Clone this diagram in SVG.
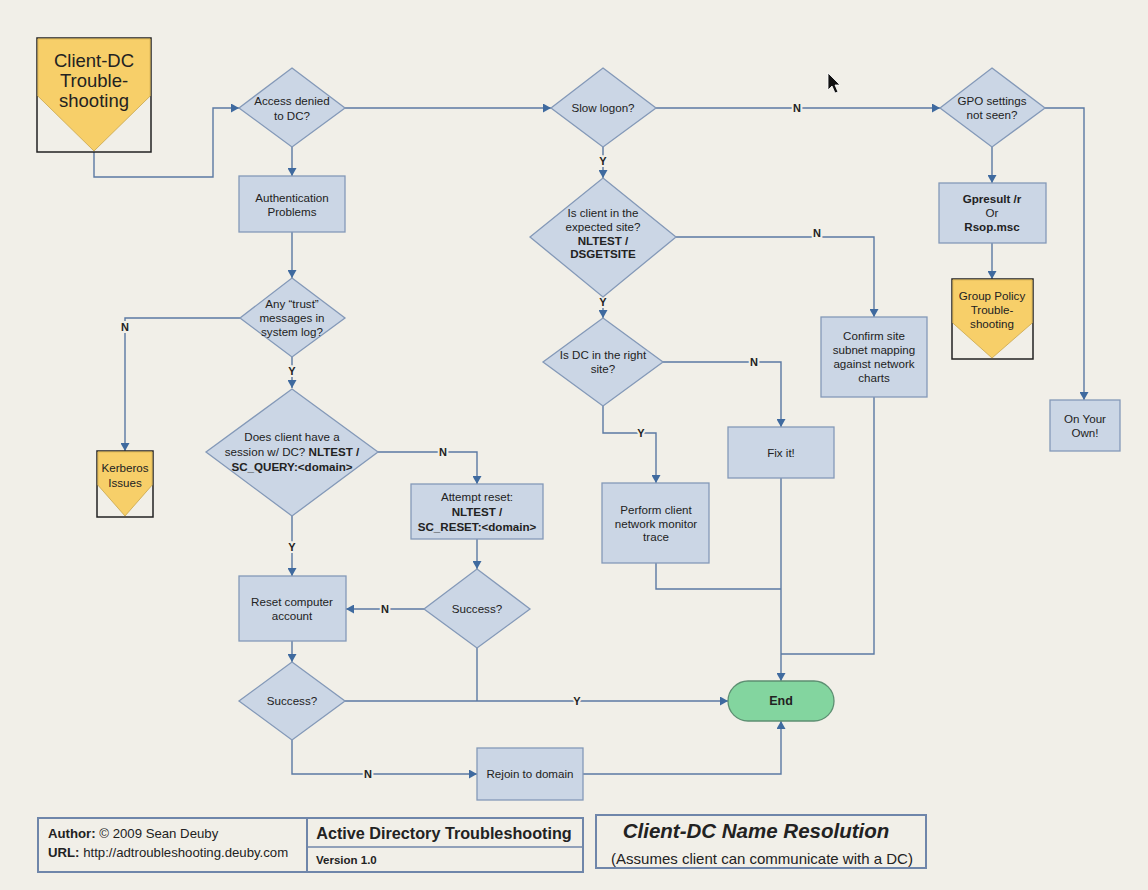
<svg xmlns="http://www.w3.org/2000/svg" width="1148" height="890" viewBox="0 0 1148 890">
<style>
text{font-family:"Liberation Sans",Arial,sans-serif;fill:#222;font-size:11.6px;text-anchor:middle}
.box{fill:#cbd6e5;stroke:#8499b8;stroke-width:1.3}
.dia{fill:#cbd6e5;stroke:#8499b8;stroke-width:1.3}
.off{fill:#f1efe8;stroke:#222;stroke-width:1.5}
.pent{fill:#f7cf69;stroke:#c9a64a;stroke-width:0.8}
.c{fill:none;stroke:#5b79a3;stroke-width:1.4}
.a{marker-end:url(#ah)}
.lbl{font-weight:bold;font-size:11px;stroke:#f1efe8;stroke-width:4;paint-order:stroke}
.b{font-weight:bold}
.foot{fill:none;stroke:#6f86aa;stroke-width:2}
</style>
<defs>
<marker id="ah" markerWidth="9" markerHeight="9" refX="8" refY="4.5" orient="auto" markerUnits="userSpaceOnUse">
<path d="M0,0 L8,4.5 L0,9 z" fill="#3f6a9f"/>
</marker>
</defs>
<rect width="1148" height="890" fill="#f1efe8"/>

<g id="connectors">
<polyline class="c a" points="94,152 94,177 213,177 213,108 239,108"/>
<polyline class="c a" points="292,147 292,176"/>
<polyline class="c a" points="292,232 292,278"/>
<polyline class="c a" points="240,318 125,318 125,451"/>
<polyline class="c a" points="292,357 292,388"/>
<polyline class="c a" points="378,452 477,452 477,484"/>
<polyline class="c a" points="292,516 292,576"/>
<polyline class="c a" points="477,539 477,569"/>
<polyline class="c a" points="424,609 346,609"/>
<polyline class="c" points="477,648 477,701"/>
<polyline class="c a" points="292,641 292,662"/>
<polyline class="c a" points="345,701 728,701"/>
<polyline class="c a" points="292,740 292,774 477,774"/>
<polyline class="c a" points="583,774 781,774 781,721"/>
<polyline class="c a" points="345,108 551,108"/>
<polyline class="c a" points="656,108 940,108"/>
<polyline class="c a" points="603,147 603,178"/>
<polyline class="c a" points="676,237 874,237 874,317"/>
<polyline class="c a" points="603,297 603,318"/>
<polyline class="c a" points="663,362 781,362 781,427"/>
<polyline class="c a" points="603,406 603,433 656,433 656,483"/>
<polyline class="c a" points="781,478 781,681"/>
<polyline class="c" points="656,563 656,589 781,589"/>
<polyline class="c" points="874,397 874,654 781,654"/>
<polyline class="c a" points="992,147 992,183"/>
<polyline class="c a" points="992,243 992,279"/>
<polyline class="c a" points="1045,108 1084,108 1084,400"/>
<text class="lbl" x="125" y="331">N</text>
<text class="lbl" x="292" y="375">Y</text>
<text class="lbl" x="443" y="456">N</text>
<text class="lbl" x="292" y="551">Y</text>
<text class="lbl" x="385" y="613">N</text>
<text class="lbl" x="577" y="705">Y</text>
<text class="lbl" x="368" y="778">N</text>
<text class="lbl" x="797" y="112">N</text>
<text class="lbl" x="603" y="165">Y</text>
<text class="lbl" x="817" y="237">N</text>
<text class="lbl" x="603" y="306">Y</text>
<text class="lbl" x="754" y="366">N</text>
<text class="lbl" x="641" y="437">Y</text>
</g>

<g id="start">
<rect class="off" x="37" y="38" width="114" height="114"/>
<polygon class="pent" points="37.8,38.8 150.2,38.8 150.2,96 94,151 37.8,96"/>
<text x="94" y="67" style="font-size:18.5px">Client-DC</text>
<text x="94" y="87" style="font-size:18.5px">Trouble-</text>
<text x="94" y="107" style="font-size:18.5px">shooting</text>
</g>

<g id="access-denied">
<polygon class="dia" points="292,68 345,108 292,147 239,108"/>
<text x="292" y="105">Access denied</text>
<text x="292" y="120">to DC?</text>
</g>

<g id="auth-problems">
<rect class="box" x="239" y="176" width="106" height="56"/>
<text x="292" y="202">Authentication</text>
<text x="292" y="216">Problems</text>
</g>

<g id="trust-messages">
<polygon class="dia" points="292,278 345,318 292,357 240,318"/>
<text x="292" y="308">Any “trust”</text>
<text x="292" y="322">messages in</text>
<text x="292" y="336">system log?</text>
</g>

<g id="kerberos">
<rect class="off" x="97" y="451" width="56" height="66"/>
<polygon class="pent" points="97.8,451.8 152.2,451.8 152.2,485 125,516 97.8,485"/>
<text x="125" y="472">Kerberos</text>
<text x="125" y="487">Issues</text>
</g>

<g id="session">
<polygon class="dia" points="292,389 378,452 292,516 206,452"/>
<text x="292" y="441">Does client have a</text>
<text x="292" y="456">session w/ DC? <tspan class="b">NLTEST /</tspan></text>
<text x="292" y="471" class="b">SC_QUERY:&lt;domain&gt;</text>
</g>

<g id="attempt-reset">
<rect class="box" x="411" y="484" width="132" height="55"/>
<text x="477" y="501">Attempt reset:</text>
<text x="477" y="516" class="b">NLTEST /</text>
<text x="477" y="531" class="b">SC_RESET:&lt;domain&gt;</text>
</g>

<g id="success2">
<polygon class="dia" points="477,569 530,609 477,648 424,609"/>
<text x="477" y="613">Success?</text>
</g>

<g id="reset-account">
<rect class="box" x="239" y="576" width="107" height="65"/>
<text x="292" y="606">Reset computer</text>
<text x="292" y="620">account</text>
</g>

<g id="success1">
<polygon class="dia" points="292,662 345,701 292,740 239,701"/>
<text x="292" y="705">Success?</text>
</g>

<g id="rejoin">
<rect class="box" x="477" y="748" width="106" height="52"/>
<text x="530" y="778">Rejoin to domain</text>
</g>

<g id="end">
<rect x="728" y="681" width="106" height="40" rx="20" ry="20" fill="#83d59f" stroke="#5d8f72" stroke-width="1.3"/>
<text x="781" y="705" class="b" style="font-size:12.5px">End</text>
</g>

<g id="slow-logon">
<polygon class="dia" points="603,68 656,108 603,147 551,108"/>
<text x="603" y="112">Slow logon?</text>
</g>

<g id="expected-site">
<polygon class="dia" points="603,178 676,237 603,297 530,237"/>
<text x="603" y="217">Is client in the</text>
<text x="603" y="231">expected site?</text>
<text x="603" y="245" class="b">NLTEST /</text>
<text x="603" y="258" class="b">DSGETSITE</text>
</g>

<g id="right-site">
<polygon class="dia" points="603,318 663,362 603,406 543,362"/>
<text x="603" y="359">Is DC in the right</text>
<text x="603" y="373">site?</text>
</g>

<g id="fix-it">
<rect class="box" x="728" y="427" width="106" height="51"/>
<text x="781" y="457">Fix it!</text>
</g>

<g id="perform-trace">
<rect class="box" x="602" y="483" width="107" height="80"/>
<text x="656" y="514">Perform client</text>
<text x="656" y="528">network monitor</text>
<text x="656" y="541">trace</text>
</g>

<g id="confirm-site">
<rect class="box" x="821" y="317" width="106" height="80"/>
<text x="874" y="340">Confirm site</text>
<text x="874" y="354">subnet mapping</text>
<text x="874" y="368">against network</text>
<text x="874" y="382">charts</text>
</g>

<g id="gpo">
<polygon class="dia" points="992,68 1045,108 992,147 940,108"/>
<text x="992" y="105">GPO settings</text>
<text x="992" y="119">not seen?</text>
</g>

<g id="gpresult">
<rect class="box" x="939" y="183" width="107" height="60"/>
<text x="992" y="203" class="b">Gpresult /r</text>
<text x="992" y="217">Or</text>
<text x="992" y="231" class="b">Rsop.msc</text>
</g>

<g id="group-policy">
<rect class="off" x="952" y="279" width="81" height="80"/>
<polygon class="pent" points="952.8,279.8 1032.2,279.8 1032.2,323 992,358 952.8,323"/>
<text x="992" y="300">Group Policy</text>
<text x="992" y="314">Trouble-</text>
<text x="992" y="328">shooting</text>
</g>

<g id="on-your-own">
<rect class="box" x="1050" y="400" width="70" height="51"/>
<text x="1085" y="423">On Your</text>
<text x="1085" y="437">Own!</text>
</g>

<g id="footer-info">
<rect class="foot" x="38" y="818" width="545" height="54"/>
<line class="foot" x1="307" y1="818" x2="307" y2="872"/>
<line class="foot" x1="307" y1="847" x2="583" y2="847" style="stroke-width:1.5"/>
<text x="48" y="838" style="text-anchor:start;font-size:13.2px"><tspan class="b">Author:</tspan> © 2009 Sean Deuby</text>
<text x="48" y="857" style="text-anchor:start;font-size:13.2px"><tspan class="b">URL:</tspan> http://adtroubleshooting.deuby.com</text>
<text x="444" y="839" class="b" style="font-size:16.2px">Active Directory Troubleshooting</text>
<text x="316" y="864" class="b" style="text-anchor:start;font-size:11.5px">Version 1.0</text>
</g>

<g id="footer-title">
<rect class="foot" x="596" y="815" width="330" height="53"/>
<text x="756" y="838" style="font-size:20.5px;font-weight:bold;font-style:italic">Client-DC Name Resolution</text>
<text x="762" y="864" style="font-size:15px">(Assumes client can communicate with a DC)</text>
</g>

<path d="M828,73 L828,90 L832,86 L835,93 L838,92 L835,85 L840,85 Z" fill="#111" stroke="#fff" stroke-width="0.8"/>
</svg>
